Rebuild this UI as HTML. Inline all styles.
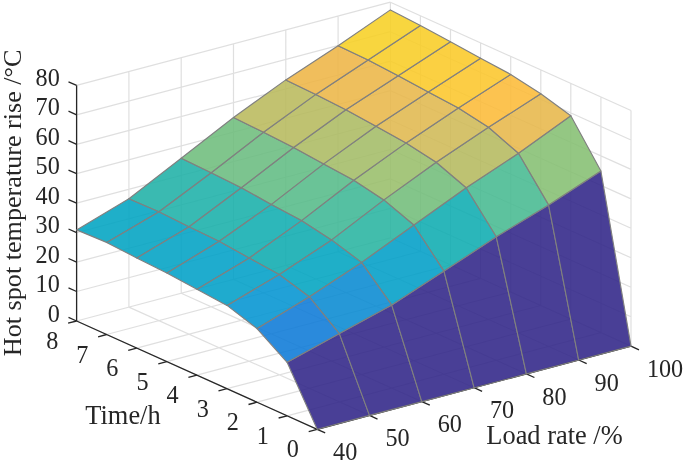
<!DOCTYPE html>
<html><head><meta charset="utf-8"><title>Hot spot temperature rise</title>
<style>html,body{margin:0;padding:0;background:#fff}svg{display:block}</style>
</head><body>
<svg width="685" height="461" viewBox="0 0 685 461">
<rect width="685" height="461" fill="#fff"/>
<path d="M317.2 429.3L76.6 321.0M369.5 415.4L128.9 307.1M421.8 401.6L181.2 293.3M474.1 387.7L233.5 279.4M526.4 373.9L285.8 265.5M578.7 360.0L338.1 251.7M631.0 346.1L390.4 237.8M317.2 429.3L631.0 346.1M287.1 415.8L600.9 332.6M257.0 402.2L570.8 319.1M227.0 388.7L540.8 305.5M196.9 375.1L510.7 292.0M166.8 361.6L480.6 278.4M136.7 348.1L450.5 264.9M106.6 334.5L420.4 251.4M76.6 321.0L390.4 237.8M76.6 321.0L76.6 85.4M128.9 307.1L128.9 71.5M181.2 293.3L181.2 57.7M233.5 279.4L233.5 43.8M285.8 265.5L285.8 29.9M338.1 251.7L338.1 16.1M390.4 237.8L390.4 2.2M76.6 321.0L390.4 237.8M76.6 291.5L390.4 208.4M76.6 262.1L390.4 178.9M76.6 232.6L390.4 149.5M76.6 203.2L390.4 120.0M76.6 173.7L390.4 90.6M76.6 144.3L390.4 61.1M76.6 114.8L390.4 31.7M76.6 85.4L390.4 2.2M631.0 346.1L631.0 110.5M600.9 332.6L600.9 97.0M570.8 319.1L570.8 83.5M540.8 305.5L540.8 69.9M510.7 292.0L510.7 56.4M480.6 278.4L480.6 42.8M450.5 264.9L450.5 29.3M420.4 251.4L420.4 15.8M390.4 237.8L390.4 2.2M631.0 346.1L390.4 237.8M631.0 316.7L390.4 208.4M631.0 287.2L390.4 178.9M631.0 257.8L390.4 149.5M631.0 228.3L390.4 120.0M631.0 198.9L390.4 90.6M631.0 169.4L390.4 61.1M631.0 140.0L390.4 31.7M631.0 110.5L390.4 2.2" stroke="#262626" stroke-opacity="0.15" stroke-width="1.2" fill="none"/>
<g stroke="#262626" stroke-width="1.3" fill="none" stroke-linecap="butt">
<path d="M76.6 321.0L76.6 85.4"/>
<path d="M76.6 321.0L317.2 429.3"/>
<path d="M317.2 429.3L631.0 346.1"/>
<path d="M76.6 321.0L68.5 317.4"/>
<path d="M76.6 291.5L68.5 287.9"/>
<path d="M76.6 262.1L68.5 258.5"/>
<path d="M76.6 232.6L68.5 229.0"/>
<path d="M76.6 203.2L68.5 199.6"/>
<path d="M76.6 173.7L68.5 170.1"/>
<path d="M76.6 144.3L68.5 140.7"/>
<path d="M76.6 114.8L68.5 111.2"/>
<path d="M76.6 85.4L68.5 81.8"/>
<path d="M317.2 429.3L308.7 431.6"/>
<path d="M287.1 415.8L278.6 418.0"/>
<path d="M257.0 402.2L248.5 404.5"/>
<path d="M227.0 388.7L218.5 390.9"/>
<path d="M196.9 375.1L188.4 377.4"/>
<path d="M166.8 361.6L158.3 363.9"/>
<path d="M136.7 348.1L128.2 350.3"/>
<path d="M106.6 334.5L98.1 336.8"/>
<path d="M76.6 321.0L68.1 323.2"/>
<path d="M317.2 429.3L325.2 432.9"/>
<path d="M369.5 415.4L377.5 419.1"/>
<path d="M421.8 401.6L429.8 405.2"/>
<path d="M474.1 387.7L482.1 391.3"/>
<path d="M526.4 373.9L534.4 377.5"/>
<path d="M578.7 360.0L586.7 363.6"/>
<path d="M631.0 346.1L639.0 349.8"/>
</g>
<g stroke="#808080" stroke-width="1.15" stroke-linejoin="round" fill-opacity="0.88">
<path d="M317.2 429.3L369.5 415.4L339.4 333.6L287.1 362.3Z" fill="rgb(48,36,136)"/>
<path d="M287.1 362.3L339.4 333.6L309.3 296.7L257.0 328.6Z" fill="rgb(12,122,215)"/>
<path d="M257.0 328.6L309.3 296.7L279.3 274.5L227.0 305.4Z" fill="rgb(2,148,210)"/>
<path d="M227.0 305.4L279.3 274.5L249.2 258.0L196.9 289.2Z" fill="rgb(0,159,199)"/>
<path d="M196.9 289.2L249.2 258.0L219.1 241.2L166.8 272.9Z" fill="rgb(0,160,199)"/>
<path d="M166.8 272.9L219.1 241.2L189.0 226.7L136.7 257.9Z" fill="rgb(0,162,196)"/>
<path d="M136.7 257.9L189.0 226.7L158.9 211.8L106.6 242.4Z" fill="rgb(0,163,194)"/>
<path d="M106.6 242.4L158.9 211.8L128.9 198.7L76.6 229.9Z" fill="rgb(0,164,193)"/>
<path d="M369.5 415.4L421.8 401.6L391.7 304.9L339.4 333.6Z" fill="rgb(48,36,136)"/>
<path d="M339.4 333.6L391.7 304.9L361.6 262.4L309.3 296.7Z" fill="rgb(8,138,210)"/>
<path d="M309.3 296.7L361.6 262.4L331.6 239.9L279.3 274.5Z" fill="rgb(0,164,192)"/>
<path d="M279.3 274.5L331.6 239.9L301.5 220.6L249.2 258.0Z" fill="rgb(14,171,175)"/>
<path d="M249.2 258.0L301.5 220.6L271.4 204.4L219.1 241.2Z" fill="rgb(16,173,176)"/>
<path d="M219.1 241.2L271.4 204.4L241.3 187.7L189.0 226.7Z" fill="rgb(24,175,170)"/>
<path d="M189.0 226.7L241.3 187.7L211.2 172.7L158.9 211.8Z" fill="rgb(28,176,168)"/>
<path d="M158.9 211.8L211.2 172.7L181.2 158.2L128.9 198.7Z" fill="rgb(31,177,166)"/>
<path d="M421.8 401.6L474.1 387.7L444.0 271.1L391.7 304.9Z" fill="rgb(48,36,136)"/>
<path d="M391.7 304.9L444.0 271.1L413.9 225.0L361.6 262.4Z" fill="rgb(0,158,199)"/>
<path d="M361.6 262.4L413.9 225.0L383.9 199.9L331.6 239.9Z" fill="rgb(40,180,161)"/>
<path d="M331.6 239.9L383.9 199.9L353.8 180.2L301.5 220.6Z" fill="rgb(62,183,149)"/>
<path d="M301.5 220.6L353.8 180.2L323.7 163.9L271.4 204.4Z" fill="rgb(85,187,137)"/>
<path d="M271.4 204.4L323.7 163.9L293.6 147.5L241.3 187.7Z" fill="rgb(97,188,131)"/>
<path d="M241.3 187.7L293.6 147.5L263.5 132.2L211.2 172.7Z" fill="rgb(106,188,127)"/>
<path d="M211.2 172.7L263.5 132.2L233.5 117.5L181.2 158.2Z" fill="rgb(110,189,124)"/>
<path d="M474.1 387.7L526.4 373.9L496.3 236.8L444.0 271.1Z" fill="rgb(48,36,136)"/>
<path d="M444.0 271.1L496.3 236.8L466.2 187.7L413.9 225.0Z" fill="rgb(14,172,177)"/>
<path d="M413.9 225.0L466.2 187.7L436.2 162.3L383.9 199.9Z" fill="rgb(114,189,122)"/>
<path d="M383.9 199.9L436.2 162.3L406.1 142.9L353.8 180.2Z" fill="rgb(153,190,106)"/>
<path d="M353.8 180.2L406.1 142.9L376.0 126.2L323.7 163.9Z" fill="rgb(163,188,102)"/>
<path d="M323.7 163.9L376.0 126.2L345.9 109.7L293.6 147.5Z" fill="rgb(172,187,98)"/>
<path d="M293.6 147.5L345.9 109.7L315.8 94.4L263.5 132.2Z" fill="rgb(182,186,93)"/>
<path d="M263.5 132.2L315.8 94.4L285.8 79.9L233.5 117.5Z" fill="rgb(186,185,92)"/>
<path d="M526.4 373.9L578.7 360.0L548.6 204.9L496.3 236.8Z" fill="rgb(48,36,136)"/>
<path d="M496.3 236.8L548.6 204.9L518.5 153.3L466.2 187.7Z" fill="rgb(71,185,145)"/>
<path d="M466.2 187.7L518.5 153.3L488.5 127.3L436.2 162.3Z" fill="rgb(181,186,94)"/>
<path d="M436.2 162.3L488.5 127.3L458.4 108.0L406.1 142.9Z" fill="rgb(207,185,87)"/>
<path d="M406.1 142.9L458.4 108.0L428.3 91.9L376.0 126.2Z" fill="rgb(224,184,78)"/>
<path d="M376.0 126.2L428.3 91.9L398.2 75.8L345.9 109.7Z" fill="rgb(232,183,74)"/>
<path d="M345.9 109.7L398.2 75.8L368.1 59.9L315.8 94.4Z" fill="rgb(236,182,71)"/>
<path d="M315.8 94.4L368.1 59.9L338.1 45.7L285.8 79.9Z" fill="rgb(238,181,70)"/>
<path d="M578.7 360.0L631.0 346.1L600.9 171.1L548.6 204.9Z" fill="rgb(48,36,136)"/>
<path d="M548.6 204.9L600.9 171.1L570.8 115.7L518.5 153.3Z" fill="rgb(133,191,114)"/>
<path d="M518.5 153.3L570.8 115.7L540.8 93.8L488.5 127.3Z" fill="rgb(231,183,74)"/>
<path d="M488.5 127.3L540.8 93.8L510.7 74.4L458.4 108.0Z" fill="rgb(252,187,56)"/>
<path d="M458.4 108.0L510.7 74.4L480.6 58.2L428.3 91.9Z" fill="rgb(252,198,43)"/>
<path d="M428.3 91.9L480.6 58.2L450.5 41.7L398.2 75.8Z" fill="rgb(250,201,40)"/>
<path d="M398.2 75.8L450.5 41.7L420.4 25.5L368.1 59.9Z" fill="rgb(248,205,38)"/>
<path d="M368.1 59.9L420.4 25.5L390.4 9.9L338.1 45.7Z" fill="rgb(247,208,36)"/>
</g>
<g font-family="'Liberation Serif', serif" font-size="24.2" fill="#262626">
<text x="59.8" y="321.6" text-anchor="end">0</text>
<text x="59.8" y="292.1" text-anchor="end">10</text>
<text x="59.8" y="262.7" text-anchor="end">20</text>
<text x="59.8" y="233.2" text-anchor="end">30</text>
<text x="59.8" y="203.8" text-anchor="end">40</text>
<text x="59.8" y="174.3" text-anchor="end">50</text>
<text x="59.8" y="144.9" text-anchor="end">60</text>
<text x="59.8" y="115.4" text-anchor="end">70</text>
<text x="59.8" y="86.0" text-anchor="end">80</text>
<text x="292.9" y="457.3" text-anchor="middle">0</text>
<text x="262.8" y="443.8" text-anchor="middle">1</text>
<text x="232.7" y="430.2" text-anchor="middle">2</text>
<text x="202.7" y="416.7" text-anchor="middle">3</text>
<text x="172.6" y="403.1" text-anchor="middle">4</text>
<text x="142.5" y="389.6" text-anchor="middle">5</text>
<text x="112.4" y="376.1" text-anchor="middle">6</text>
<text x="82.3" y="362.5" text-anchor="middle">7</text>
<text x="52.3" y="349.0" text-anchor="middle">8</text>
<text x="333.1" y="459.9">40</text>
<text x="385.4" y="446.0">50</text>
<text x="437.7" y="432.2">60</text>
<text x="490.0" y="418.3">70</text>
<text x="542.3" y="404.5">80</text>
<text x="594.6" y="390.6">90</text>
<text x="646.9" y="376.7">100</text>
</g>
<g font-family="'Liberation Serif', serif" font-size="26.4" fill="#262626">
<text x="123" y="423.5" text-anchor="middle">Time/h</text>
<text x="554.5" y="444.2" text-anchor="middle">Load rate /%</text>
<text transform="translate(20.8,202.8) rotate(-90)" font-size="26.15" text-anchor="middle">Hot spot temperature rise /°C</text>
</g>
</svg>
</body></html>
